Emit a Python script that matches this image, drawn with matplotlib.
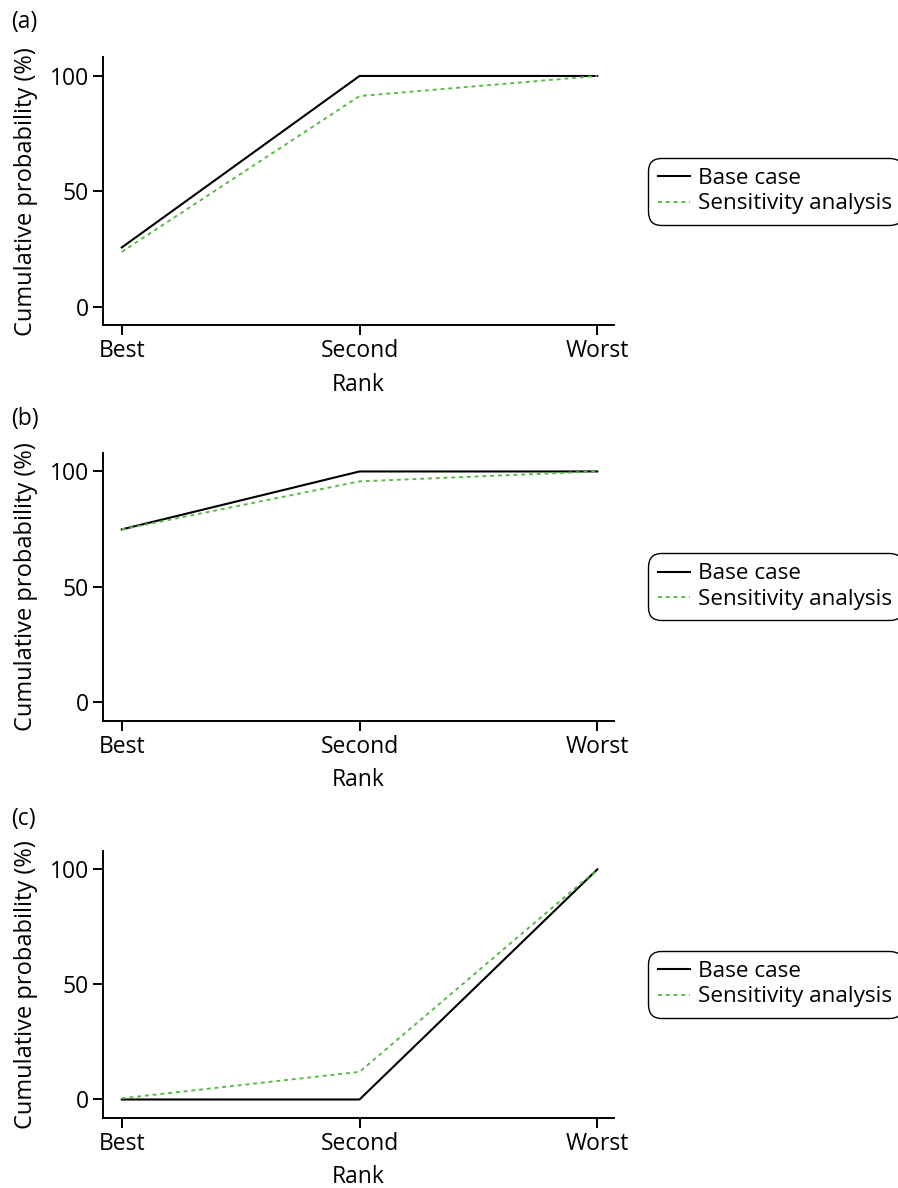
import matplotlib.pyplot as plt

plt.rcParams['font.family'] = ['Open Sans', 'DejaVu Sans']
plt.rcParams['font.size'] = 16.5

ranks = ['Best', 'Second', 'Worst']
panels = ['(a)', '(b)', '(c)']

# cumulative probability of each rank (%)
base_a = [25.7, 100, 100]
sens_a = [23.8, 91.3, 100]
base_b = [74.9, 100, 100]
sens_b = [74.9, 95.7, 100]
base_c = [0, 0, 100]
sens_c = [0.5, 12, 100]

base = [base_a, base_b, base_c]
sens = [sens_a, sens_b, sens_c]

green = '#5cb84a'

fig = plt.figure(figsize=(8.98, 11.88), dpi=100)

# axes boxes [left, bottom, width, height] in figure fraction
boxes = [
    [0.1144, 0.7264, 0.5693, 0.2254],
    [0.1144, 0.3934, 0.5693, 0.2255],
    [0.1144, 0.0592, 0.5693, 0.2247],
]
label_y = [0.992, 0.657, 0.321]

xs = [1, 2, 3]
for i in range(3):
    ax = fig.add_axes(boxes[i])
    ax.plot(xs, base[i], color='black', lw=1.5, label='Base case')
    ax.plot(xs, sens[i], color=green, lw=1.4, linestyle=(0, (2, 2)),
            label='Sensitivity analysis')

    ax.set_xlim(0.92, 3.07)
    ax.set_ylim(-7.9, 108.1)
    ax.set_xticks(xs)
    ax.set_xticklabels(ranks)
    ax.set_yticks([0, 50, 100])
    ax.spines['top'].set_visible(False)
    ax.spines['right'].set_visible(False)
    for s in ['left', 'bottom']:
        ax.spines[s].set_linewidth(1.4)
    ax.tick_params(direction='out', length=7, width=1.4, pad=3)
    ax.set_xlabel('Rank', labelpad=7)
    ax.set_ylabel('Cumulative probability (%)', fontsize=17, labelpad=8)

    leg = ax.legend(loc='center left', bbox_to_anchor=(1.066, 0.5),
                    borderaxespad=0, frameon=True, fancybox=True,
                    fontsize=16.2, handlelength=1.45, handletextpad=0.35,
                    borderpad=0.45, labelspacing=0.2)
    frame = leg.get_frame()
    frame.set_edgecolor('black')
    frame.set_linewidth(1.0)
    frame.set_boxstyle('round,pad=0,rounding_size=0.6')
    frame.set_alpha(None)

    fig.text(0.012, label_y[i], panels[i], ha='left', va='top')

fig.savefig('out.png', dpi=100)
